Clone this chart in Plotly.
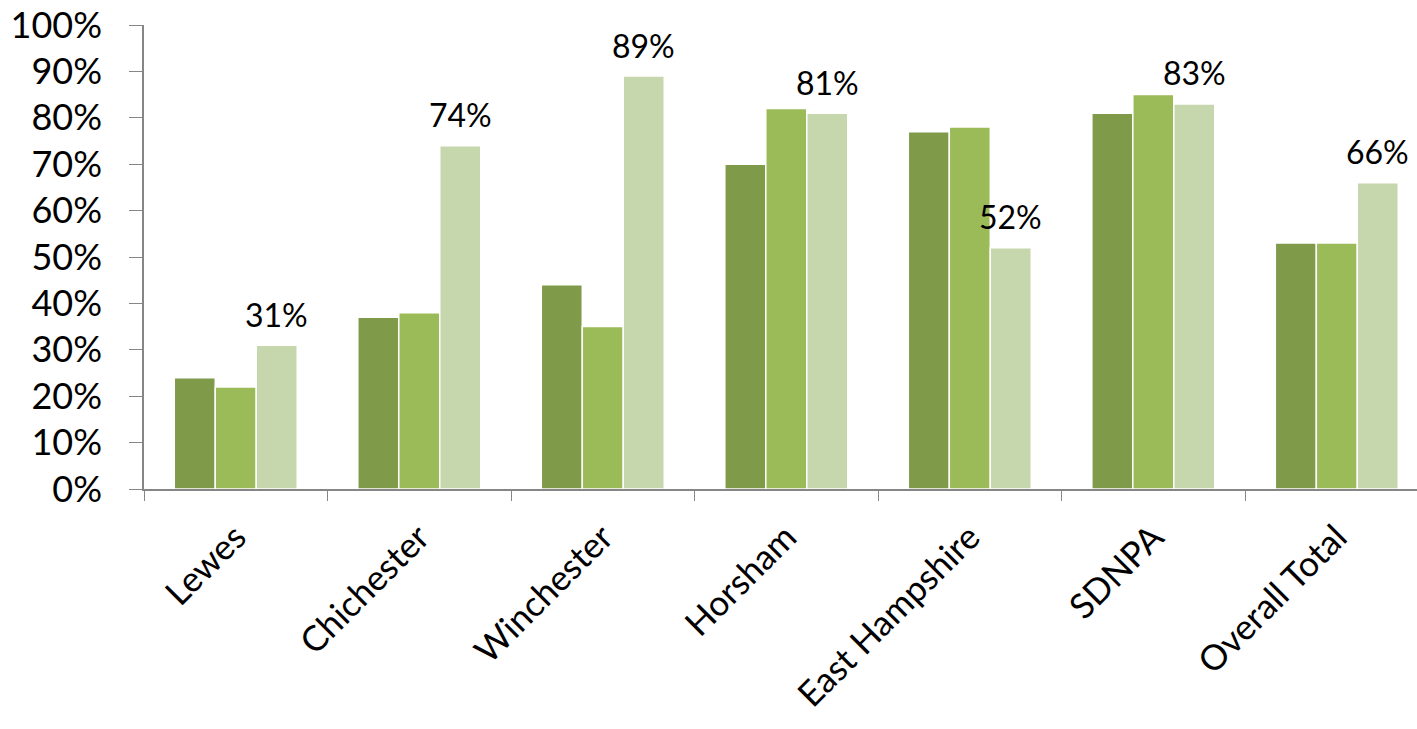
import plotly.graph_objects as go

categories = ["Lewes", "Chichester", "Winchester", "Horsham", "East Hampshire", "SDNPA", "Overall Total"]
series_a = [24, 37, 44, 70, 77, 81, 53]
series_b = [22, 38, 35, 82, 78, 85, 53]
series_c = [31, 74, 89, 81, 52, 83, 66]
y_ticks = [0, 10, 20, 30, 40, 50, 60, 70, 80, 90, 100]
y_tick_labels = [f"{v}%" for v in y_ticks]

colors = ["#7F9A48", "#9BBB59", "#C6D6AD"]
font_family = "Lato, 'Open Sans', sans-serif"

fig = go.Figure()
for vals, col in zip([series_a, series_b, series_c], colors):
    fig.add_trace(go.Bar(
        x=categories, y=vals,
        marker=dict(color=col, line=dict(color="white", width=1.5)),
        showlegend=False,
    ))

for i, v in enumerate(series_c):
    fig.add_annotation(
        x=i, y=v, xref="x", yref="y",
        text=f"{v}%", showarrow=False,
        xshift=41, yshift=31,
        font=dict(size=32, color="black", family=font_family),
    )

fig.update_layout(
    width=1417, height=729,
    margin=dict(l=144, r=0, t=25, b=240, autoexpand=False),
    paper_bgcolor="white", plot_bgcolor="white",
    barmode="group", bargap=0.33, bargroupgap=0,
    font=dict(family=font_family, size=34, color="black"),
    xaxis=dict(
        range=[-0.5, 6.437], automargin=False,
        showline=True, linecolor="#868686", linewidth=1.5,
        ticks="outside", tickson="boundaries", ticklen=10, tickcolor="#868686",
        tickangle=-45, tickfont=dict(size=35),
        ticklabelstandoff=12,
        showgrid=False,
    ),
    yaxis=dict(
        range=[0, 100], automargin=False,
        tickvals=y_ticks, ticktext=y_tick_labels,
        showline=True, linecolor="#868686", linewidth=1.5,
        ticks="outside", ticklen=13, tickcolor="#868686",
        ticklabelstandoff=20,
        tickfont=dict(size=36),
        showgrid=False, zeroline=False,
    ),
)

fig.write_html("out.html")
